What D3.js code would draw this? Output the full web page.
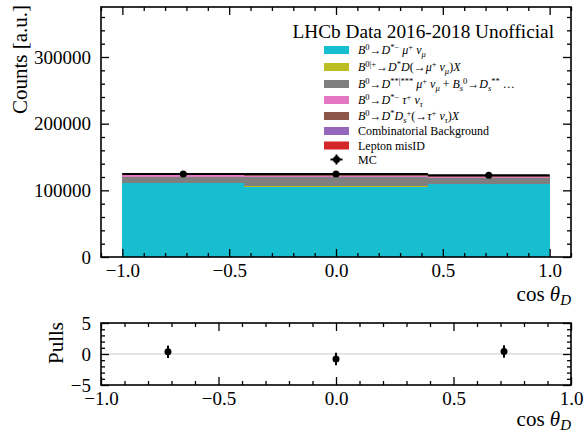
<!DOCTYPE html>
<html>
<head>
<meta charset="utf-8">
<script src="https://cdn.jsdelivr.net/npm/d3@7"></script>
<style>
  body { margin: 0; background: #fff; }
  text { font-family: "Liberation Serif", "DejaVu Serif", serif; fill: #000; }
</style>
</head>
<body>
<div id="chart"></div>
<script>
// ---- data ----
const binEdges = [-1.0, -0.43, 0.43, 1.0];
const componentKeys = ["sigMu", "ddMu", "dssMu", "sigTau", "dsTau", "comb", "misid"];
const componentLabels = [
  "B^{0}→D^{*−} μ^{+} ν_{μ}",
  "B^{0|+}→D^{*}D(→μ^{+} ν_{μ})X",
  "B^{0}→D^{**|***} μ^{+} ν_{μ} + B_{s}^{0}→D_{s}^{**} …",
  "B^{0}→D^{*−} τ^{+} ν_{τ}",
  "B^{0}→D^{*}D_{s}^{+}(→τ^{+} ν_{τ})X",
  "Combinatorial Background",
  "Lepton misID"
];
const componentMath = [true, true, true, true, true, false, false];
const componentColors = ["#17becf", "#bcbd22", "#7f7f7f", "#e377c2", "#8c564b", "#9467bd", "#d62728"];

const sigMu  = [110500, 105000, 109000];
const ddMu   = [500, 1500, 500];
const dssMu  = [8500, 13000, 9500];
const sigTau = [3500, 2000, 1500];
const dsTau  = [1500, 1500, 1500];
const comb   = [800, 1000, 1200];
const misid  = [200, 300, 200];

const mcCounts = [124500, 124500, 122800];
const mcErrors = [400, 400, 400];
const pulls = [0.35, -0.8, 0.4];
const pullErrors = [1, 1, 1];

const yTicksMain = [0, 100000, 200000, 300000];
const xTicksMajor = [-1.0, -0.5, 0.0, 0.5, 1.0];
const yTicksPull = [-5, 0, 5];

// ---- layout ----
const W = 587, H = 432;
const left = 101, right = 571;
const mainTop = 7, mainBot = 257;
const pullTop = 323, pullBot = 385;

const svg = d3.select("#chart").append("svg")
  .attr("width", W).attr("height", H);

const x = d3.scaleLinear().domain([-1.1, 1.1]).range([left, right]);
const y = d3.scaleLinear().domain([0, 375000]).range([mainBot, mainTop]);
const xp = d3.scaleLinear().domain([-1, 1]).range([left, right]);
const yp = d3.scaleLinear().domain([-5, 5]).range([pullBot, pullTop]);

const series = { sigMu, ddMu, dssMu, sigTau, dsTau, comb, misid };
const bins = d3.range(binEdges.length - 1).map(i => {
  const o = { lo: binEdges[i], hi: binEdges[i + 1] };
  componentKeys.forEach(k => o[k] = series[k][i]);
  return o;
});
const stacked = d3.stack().keys(componentKeys)(bins);

// stacked histogram
const gMain = svg.append("g");
stacked.forEach((layer, li) => {
  gMain.selectAll(null).data(layer).enter().append("rect")
    .attr("x", d => x(d.data.lo))
    .attr("width", d => x(d.data.hi) - x(d.data.lo))
    .attr("y", d => y(d[1]))
    .attr("height", d => y(d[0]) - y(d[1]))
    .attr("fill", componentColors[li])
    .attr("shape-rendering", "crispEdges");
});

// MC points with bin-width x errors
bins.forEach((b, i) => {
  const cx = (b.lo + b.hi) / 2;
  gMain.append("line")
    .attr("x1", x(b.lo)).attr("x2", x(b.hi))
    .attr("y1", y(mcCounts[i])).attr("y2", y(mcCounts[i]))
    .attr("stroke", "#000").attr("stroke-width", 2);
  gMain.append("line")
    .attr("x1", x(cx)).attr("x2", x(cx))
    .attr("y1", y(mcCounts[i] - mcErrors[i])).attr("y2", y(mcCounts[i] + mcErrors[i]))
    .attr("stroke", "#000").attr("stroke-width", 2);
  gMain.append("circle")
    .attr("cx", x(cx)).attr("cy", y(mcCounts[i])).attr("r", 3.5).attr("fill", "#000");
});

// ---- axes helpers ----
function minorTicks(lo, hi, step, majors) {
  const out = [];
  for (let v = Math.ceil(lo / step - 1e-9); v * step <= hi + 1e-9; v++) {
    const t = +(v * step).toFixed(6);
    if (!majors.some(m => Math.abs(m - t) < 1e-9)) out.push(t);
  }
  return out;
}

function drawFrame(xs, ys, top, bot, xMaj, xMin, yMaj, yMin, xFmt, yFmt) {
  const g = svg.append("g");
  const ax = [
    [d3.axisBottom, xs, bot, "x"], [d3.axisTop, xs, top, "x"],
    [d3.axisLeft, ys, left, "y"], [d3.axisRight, ys, right, "y"]
  ];
  ax.forEach(([fn, sc, pos, dir], j) => {
    const tr = dir === "x" ? `translate(0,${pos})` : `translate(${pos},0)`;
    const maj = dir === "x" ? xMaj : yMaj;
    const mn = dir === "x" ? xMin : yMin;
    const withLabels = j === 0 || j === 2;
    const a1 = g.append("g").attr("transform", tr)
      .call(fn(sc).tickValues(maj).tickSizeInner(-8).tickSizeOuter(0)
        .tickPadding(dir === "x" ? 7 : 10)
        .tickFormat(withLabels ? (dir === "x" ? xFmt : yFmt) : ""));
    g.append("g").attr("transform", tr)
      .call(fn(sc).tickValues(mn).tickSizeInner(-4).tickSizeOuter(0).tickFormat(""));
    a1.selectAll("text").style("font-size", "19px").style("font-family", '"Liberation Serif", serif');
  });
  g.selectAll(".domain").remove();
  g.selectAll("line").attr("stroke", "#000").attr("stroke-width", 1.3);
  g.append("rect")
    .attr("x", left).attr("y", top).attr("width", right - left).attr("height", bot - top)
    .attr("fill", "none").attr("stroke", "#000").attr("stroke-width", 1.6);
  return g;
}

const fmtX = d3.format(".1f");
drawFrame(x, y, mainTop, mainBot,
  xTicksMajor, minorTicks(-1.1, 1.1, 0.1, xTicksMajor),
  yTicksMain, minorTicks(0, 375000, 20000, yTicksMain),
  fmtX, d3.format("d"));

// pulls panel
svg.append("line")
  .attr("x1", left).attr("x2", right).attr("y1", yp(0)).attr("y2", yp(0))
  .attr("stroke", "#dcdcdc").attr("stroke-width", 1.6);
pulls.forEach((p, i) => {
  const cx = (binEdges[i] + binEdges[i + 1]) / 2;
  svg.append("line")
    .attr("x1", xp(cx)).attr("x2", xp(cx))
    .attr("y1", yp(p - pullErrors[i])).attr("y2", yp(p + pullErrors[i]))
    .attr("stroke", "#000").attr("stroke-width", 2);
  svg.append("circle").attr("cx", xp(cx)).attr("cy", yp(p)).attr("r", 3.5).attr("fill", "#000");
});
drawFrame(xp, yp, pullTop, pullBot,
  xTicksMajor, minorTicks(-1, 1, 0.1, xTicksMajor),
  yTicksPull, minorTicks(-5, 5, 1, yTicksPull),
  fmtX, d3.format("d"));

// ---- axis titles ----
function cosTheta(xPos, yPos) {
  const t = svg.append("text").attr("x", xPos).attr("y", yPos)
    .attr("text-anchor", "end").style("font-size", "21px");
  t.append("tspan").text("cos ");
  t.append("tspan").style("font-style", "italic").text("θ");
  t.append("tspan").style("font-style", "italic").style("font-size", "15px").attr("dy", 4).text("D");
}
cosTheta(right, 301);
cosTheta(right, 426);

svg.append("text")
  .attr("transform", `translate(27,${mainTop - 2}) rotate(-90)`)
  .attr("text-anchor", "end").style("font-size", "21px")
  .text("Counts [a.u.]");
svg.append("text")
  .attr("transform", `translate(63,${pullTop - 1}) rotate(-90)`)
  .attr("text-anchor", "end").style("font-size", "21px")
  .text("Pulls");

// ---- legend ----
const leg = svg.append("g");
leg.append("text").attr("x", 554).attr("y", 38).attr("text-anchor", "end")
  .style("font-size", "19.3px").text("LHCb Data 2016-2018 Unofficial");

const rowY = [50, 67, 84, 100, 116, 131, 145.5];
const patchX = 324, patchW = 25, textX = 358;

function mathLabel(sel, str) {
  // split into normal / sup / sub segments
  const segs = [];
  let i = 0, buf = "";
  while (i < str.length) {
    if ((str[i] === "^" || str[i] === "_") && str[i + 1] === "{") {
      if (buf) { segs.push([buf, 0]); buf = ""; }
      const end = str.indexOf("}", i);
      segs.push([str.slice(i + 2, end), str[i] === "^" ? 1 : -1]);
      i = end + 1;
    } else { buf += str[i]; i++; }
  }
  if (buf) segs.push([buf, 0]);
  let cur = 0;
  segs.forEach(([txt, lvl]) => {
    const shift = lvl === 1 ? -4.5 : lvl === -1 ? 3 : 0;
    const runs = txt.match(/[A-Za-zμντ]+|[^A-Za-zμντ]+/g) || [];
    runs.forEach((r, k) => {
      const ts = sel.append("tspan").text(r);
      if (k === 0) ts.attr("dy", shift - cur);
      if (/[A-Za-zμντ]/.test(r)) ts.style("font-style", "italic");
      if (lvl !== 0) ts.style("font-size", "8.5px");
    });
    cur = shift;
  });
}

componentLabels.forEach((lab, i) => {
  leg.append("rect").attr("x", patchX).attr("y", rowY[i] - 4)
    .attr("width", patchW).attr("height", 8).attr("fill", componentColors[i]);
  const t = leg.append("text").attr("x", textX).attr("y", rowY[i] + 4)
    .style("font-size", "12px");
  if (componentMath[i]) mathLabel(t, lab); else t.text(lab);
});

// MC legend entry
const mcY = 159.5, mcX = patchX + patchW / 2;
leg.append("line").attr("x1", mcX - 6).attr("x2", mcX + 6).attr("y1", mcY).attr("y2", mcY)
  .attr("stroke", "#000").attr("stroke-width", 2);
leg.append("line").attr("x1", mcX).attr("x2", mcX).attr("y1", mcY - 5).attr("y2", mcY + 5)
  .attr("stroke", "#000").attr("stroke-width", 2);
leg.append("circle").attr("cx", mcX).attr("cy", mcY).attr("r", 3.5).attr("fill", "#000");
leg.append("text").attr("x", textX).attr("y", mcY + 4).style("font-size", "12px").text("MC");
</script>
</body>
</html>
